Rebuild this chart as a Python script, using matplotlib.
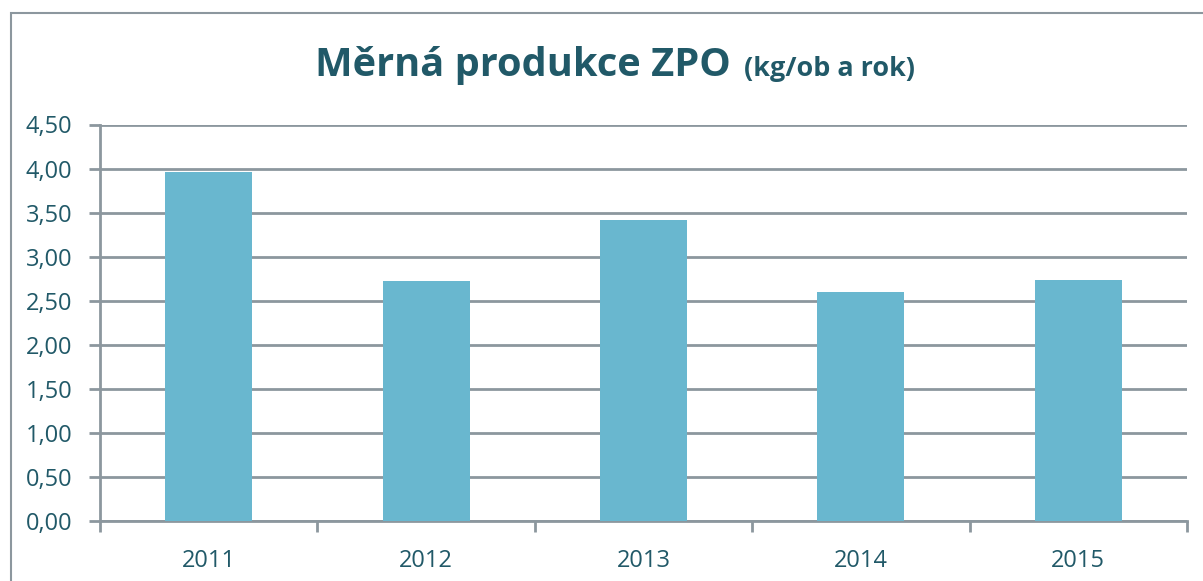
import matplotlib
matplotlib.use("Agg")
import matplotlib.pyplot as plt
from matplotlib.patches import Rectangle
from matplotlib.ticker import MultipleLocator, FuncFormatter

years = ["2011", "2012", "2013", "2014", "2015"]
values = [3.96, 2.72, 3.42, 2.60, 2.74]
title_main = "Měrná produkce ZPO"
title_unit = "(kg/ob a rok)"

W, H = 1203, 581
fig = plt.figure(figsize=(W / 100, H / 100), dpi=100)
plt.rcParams['font.family'] = ['Open Sans', 'DejaVu Sans']

text_c = "#215968"
grid_c = "#8C979E"
bar_c = "#69B7CF"

# outer chart border
fig.patches.append(Rectangle((11 / W, -0.05), 1.1, (H - 13) / H + 0.05, transform=fig.transFigure,
                             fill=False, edgecolor=grid_c, linewidth=1.5))

left, right, bottom, top = 100, 1187, 521.3, 124.5
ax = fig.add_axes([left / W, 1 - bottom / H, (right - left) / W, (bottom - top) / H])
x = list(range(len(years)))
ax.bar(x, values, width=0.4, color=bar_c, zorder=3)
ax.set_xlim(-0.5, len(years) - 0.5)
ax.set_ylim(0, 4.5)
ax.yaxis.set_major_locator(MultipleLocator(0.5))
ax.yaxis.set_major_formatter(FuncFormatter(lambda v, p: f"{v:.2f}".replace(".", ",")))
ax.grid(axis="y", color=grid_c, linewidth=2, zorder=0)
ax.set_xticks(x)
ax.set_xticklabels(years)
ax.set_xticks([i - 0.5 for i in range(len(years) + 1)], minor=True)
ax.tick_params(axis="x", which="major", length=0, pad=20, labelsize=17, labelcolor=text_c)
ax.tick_params(axis="x", which="minor", length=8, width=2, color=grid_c)
ax.tick_params(axis="y", length=8, width=2, color=grid_c, labelsize=17, labelcolor=text_c, pad=12)
for lab in ax.get_xticklabels() + ax.get_yticklabels():
    lab.set_fontweight("medium")
for s in ["top", "right"]:
    ax.spines[s].set_visible(False)
for s in ["left", "bottom"]:
    ax.spines[s].set_color(grid_c)
    ax.spines[s].set_linewidth(2)

# title in two parts, fitted to the reference widths
r = fig.canvas.get_renderer()
t1 = fig.text(0, 0, title_main, fontsize=10, fontweight="bold", color=text_c, va="baseline")
t2 = fig.text(0, 0, title_unit, fontsize=10, fontweight="bold", color=text_c, va="baseline")
t1.set_fontsize(10 * 417 / t1.get_window_extent(r).width)
t2.set_fontsize(10 * 171 / t2.get_window_extent(r).width)
base_y = 1 - 76 / H
t1.set_position((315 / W, base_y))
t2.set_position((744 / W, base_y))

fig.savefig("out.png", dpi=100)
